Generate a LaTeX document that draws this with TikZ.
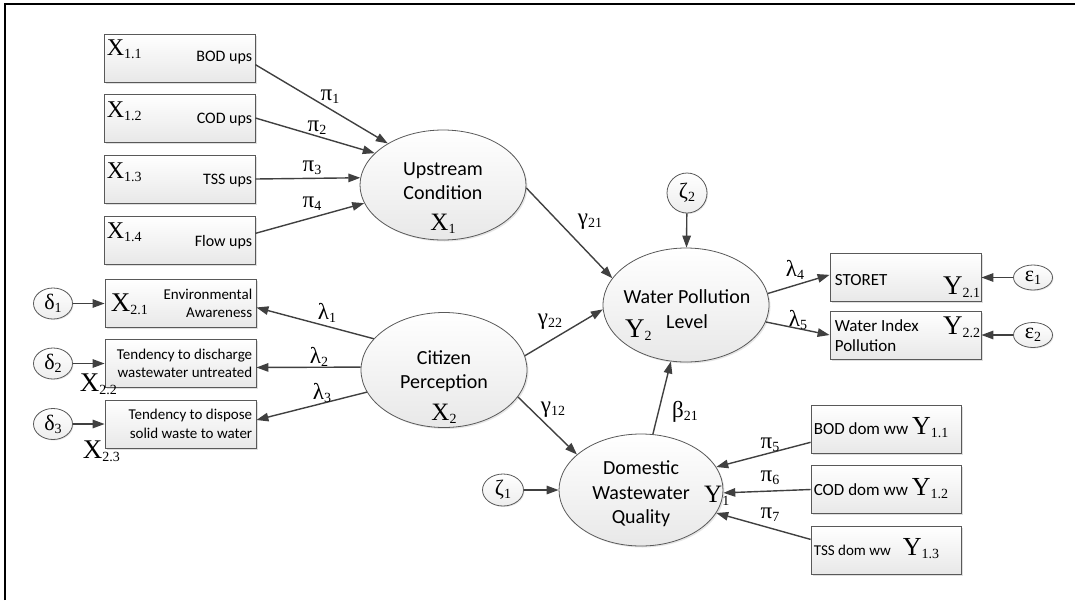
\documentclass[tikz,border=0pt]{standalone}
\usepackage{fontspec}
\setmainfont{Carlito}
\newfontfamily\tms{Liberation Serif}
\usetikzlibrary{shapes.geometric,arrows.meta,shadows}

% lowered index for variable names and coefficients
\newcommand{\subidx}[1]{\raisebox{-3pt}{\fontsize{14}{14}\selectfont #1}}

\tikzset{
  obsbox/.style={draw=black!65, line width=0.8pt, top color=white, bottom color=black!9,
    minimum width=151pt, minimum height=48pt, inner sep=0pt,
    drop shadow={shadow xshift=1.5pt, shadow yshift=-1.5pt, opacity=.25}},
  latent/.style={ellipse, draw=black!65, line width=0.8pt, top color=white, bottom color=black!9,
    inner sep=0pt, drop shadow={shadow xshift=1.5pt, shadow yshift=-1.5pt, opacity=.2}},
  errc/.style={ellipse, draw=black!65, line width=0.8pt, top color=white, bottom color=black!7,
    inner sep=0pt, minimum width=39pt, minimum height=31pt, font=\tms\fontsize{22}{22}\selectfont,
    drop shadow={shadow xshift=1pt, shadow yshift=-1pt, opacity=.2}},
  arr/.style={draw=black!75, line width=1.4pt, -{Triangle[length=12pt,width=8.5pt]}},
  coef/.style={font=\tms\fontsize{23}{23}\selectfont, inner sep=0pt},
  vname/.style={font=\tms\fontsize{24}{24}\selectfont, inner sep=0pt},
  bigname/.style={font=\tms\fontsize{27}{27}\selectfont, inner sep=0pt},
  btext/.style={font=\fontsize{16}{19}\selectfont, inner sep=0pt},
  stext/.style={font=\fontsize{15}{18.5}\selectfont, inner sep=0pt, align=right},
  ltext/.style={font=\fontsize{20}{24.5}\selectfont, inner sep=0pt, align=center},
}

\begin{document}
\begin{tikzpicture}[x=1pt,y=-1pt]
  \useasboundingbox (0,0) rectangle (1075,600);
  % Frame
  \draw[line width=2.5pt] (5,600) -- (5,4) -- (1075,4);

  % Upstream indicators
  \node[obsbox] (b11) at (179.5,58) {};
  \node[obsbox] (b12) at (179.5,118) {};
  \node[obsbox] (b13) at (179.5,179) {};
  \node[obsbox] (b14) at (179.5,240) {};
  \node[vname, anchor=base west] (x11) at ([shift={(3,22)}]b11.north west) {X\subidx{1.1}};
  \node[vname, anchor=base west] (x12) at ([shift={(3,24)}]b12.north west) {X\subidx{1.2}};
  \node[vname, anchor=base west] (x13) at ([shift={(3,24)}]b13.north west) {X\subidx{1.3}};
  \node[vname, anchor=base west] (x14) at ([shift={(3,23)}]b14.north west) {X\subidx{1.4}};
  \node[btext, anchor=base east] (t11) at ([shift={(-3,28)}]b11.north east) {BOD ups};
  \node[btext, anchor=base east] (t12) at ([shift={(-3,30)}]b12.north east) {COD ups};
  \node[btext, anchor=base east] (t13) at ([shift={(-3,30)}]b13.north east) {TSS ups};
  \node[btext, anchor=base east] (t14) at ([shift={(-3,31)}]b14.north east) {Flow ups};

  % Upstream Condition
  \node[latent, minimum width=166pt, minimum height=110pt] (up) at (443,185) {};
  \node[ltext] (upt) at (443,198) {Upstream\\Condition\\[6pt]{\tms\fontsize{25}{25}\selectfont X\subidx{1}}};

  \draw[arr] (b11.-5) -- (up.143);
  \draw[arr] (b12.east) -- (up.155);
  \draw[arr] (b13.east) -- (up.175);
  \draw[arr] (b14.5) -- (up.193);
  \node[coef] (p1) at (330,97) {π\subidx{1}};
  \node[coef] (p2) at (317,128) {π\subidx{2}};
  \node[coef] (p3) at (312,168) {π\subidx{3}};
  \node[coef] (p4) at (312,204) {π\subidx{4}};

  % Citizen perception indicators
  \node[obsbox] (b21) at (180.5,303.5) {};
  \node[obsbox] (b22) at (180.5,363.5) {};
  \node[obsbox] (b23) at (180.5,424) {};
  \node[stext, anchor=east] (t21) at ([xshift=-4pt]b21.east) {Environmental\\Awareness};
  \node[stext, anchor=east] (t22) at ([xshift=-4pt]b22.east) {Tendency to discharge\\wastewater untreated};
  \node[stext, anchor=east] (t23) at ([xshift=-4pt]b23.east) {Tendency to dispose\\solid waste to water};
  \node[vname, font=\tms\fontsize{27}{27}\selectfont, anchor=base west] (x21) at ([shift={(6,32)}]b21.north west) {X\subidx{2.1}};
  \node[vname, font=\tms\fontsize{27}{27}\selectfont, anchor=base west] (x22) at ([shift={(-25,4)}]b22.south west) {X\subidx{2.2}};
  \node[vname, font=\tms\fontsize{27}{27}\selectfont, anchor=base west] (x23) at ([shift={(-22,10)}]b23.south west) {X\subidx{2.3}};

  \node[errc] (d1) at (53,303.5) {δ\subidx{1}};
  \node[errc] (d2) at (53,363.5) {δ\subidx{2}};
  \node[errc] (d3) at (53,424) {δ\subidx{3}};
  \draw[arr] (d1) -- (b21);
  \draw[arr] (d2) -- (b22);
  \draw[arr] (d3) -- (b23);

  % Citizen Perception
  \node[latent, minimum width=166pt, minimum height=115pt] (cit) at (444,370) {};
  \node[ltext] (citt) at (444,387) {Citizen\\Perception\\[7pt]{\tms\fontsize{25}{25}\selectfont X\subidx{2}}};

  \draw[arr] (cit.156) -- (b21.-3);
  \draw[arr] (cit.178) -- (b22.-3);
  \draw[arr] (cit.196) -- (b23.3);
  \node[coef] (l1) at (327,313) {λ\subidx{1}};
  \node[coef] (l2) at (319,357) {λ\subidx{2}};
  \node[coef] (l3) at (322,393) {λ\subidx{3}};

  % Water Pollution Level
  \node[latent, minimum width=166pt, minimum height=114pt] (wat) at (686,305) {};
  \node[ltext] (watt) at (687,309) {Water Pollution\\Level};
  \node[bigname, anchor=base west] (y2) at ([shift={(-61,32)}]wat.center) {Y\subidx{2}};
  \node[errc, minimum width=40pt, minimum height=40pt] (z2) at (687,193) {ζ\subidx{2}};
  \draw[arr] (z2) -- (wat);

  \draw[arr] (up.-2) -- (wat.160);
  \draw[arr] (cit.10) -- (wat.183);
  \node[coef] (g21) at (590,222) {γ\subidx{21}};
  \node[coef] (g22) at (550,322) {γ\subidx{22}};

  % Water pollution indicators
  \node[obsbox] (rs) at (905.5,277.5) {};
  \node[obsbox] (rw) at (905.5,335) {};
  \node[btext, font=\fontsize{17}{20}\selectfont, anchor=base west] (ts) at ([shift={(5,32)}]rs.north west) {STORET};
  \node[btext, font=\fontsize{17}{20}\selectfont, align=left, anchor=north west] (tw) at ([shift={(5,9)}]rw.north west) {Water Index\\Pollution};
  \node[bigname, anchor=base east] (y21) at ([shift={(-1,-7)}]rs.south east) {Y\subidx{2.1}};
  \node[bigname, anchor=base east] (y22) at ([shift={(-1,24)}]rw.north east) {Y\subidx{2.2}};
  \node[errc, minimum height=25pt] (e1) at (1033,277.5) {ε\subidx{1}};
  \node[errc, minimum height=25pt] (e2) at (1033,335) {ε\subidx{2}};
  \draw[arr] (e1) -- (rs);
  \draw[arr] (e2) -- (rw);

  \draw[arr] (wat.8) -- (rs.178);
  \draw[arr] (wat.-12) -- (rw.west);
  \node[coef] (l4) at (795,270) {λ\subidx{4}};
  \node[coef] (l5) at (798,320) {λ\subidx{5}};

  % Domestic Wastewater Quality
  \node[latent, minimum width=164pt, minimum height=112pt] (dom) at (641,490) {};
  \node[ltext] (domt) at (641,494) {Domestic\\Wastewater\\Quality};
  \node[bigname, font=\tms\fontsize{25}{25}\selectfont, anchor=base west] (y1) at (704,502) {Y\subidx{1}};
  \node[errc, minimum width=41pt, minimum height=32pt] (z1) at (503,490) {ζ\subidx{1}};
  \draw[arr] (z1) -- (dom);

  \draw[arr] (cit.-20) -- (dom.151);
  \draw[arr] (dom.78) -- (wat.255);
  \node[coef] (g12) at (553,410) {γ\subidx{12}};
  \node[coef] (b21l) at (685,412) {β\subidx{21}};

  % Domestic wastewater indicators
  \node[obsbox, minimum width=150pt] (db1) at (886,429) {};
  \node[obsbox, minimum width=150pt] (db2) at (886,489.5) {};
  \node[obsbox, minimum width=150pt] (db3) at (886,550) {};
  \node[btext, font=\fontsize{17}{20}\selectfont, anchor=base west] (dt1) at ([shift={(3,30)}]db1.north west) {BOD dom ww {\tms\fontsize{26}{26}\selectfont Y\subidx{1.1}}};
  \node[btext, font=\fontsize{17}{20}\selectfont, anchor=base west] (dt2) at ([shift={(3,30)}]db2.north west) {COD dom ww {\tms\fontsize{26}{26}\selectfont Y\subidx{1.2}}};
  \node[btext, font=\fontsize{15}{18}\selectfont, anchor=base west] (dt3) at ([shift={(3,30)}]db3.north west) {TSS dom ww\hspace{12pt}{\tms\fontsize{26}{26}\selectfont Y\subidx{1.3}}};

  \draw[arr] (db1.190) -- (dom.17);
  \draw[arr] (db2.west) -- (dom.-2);
  \draw[arr] (db3.172) -- (dom.-17);
  \node[coef] (p5) at (770,445) {π\subidx{5}};
  \node[coef] (p6) at (770,478) {π\subidx{6}};
  \node[coef] (p7) at (770,515) {π\subidx{7}};
\end{tikzpicture}
\end{document}
